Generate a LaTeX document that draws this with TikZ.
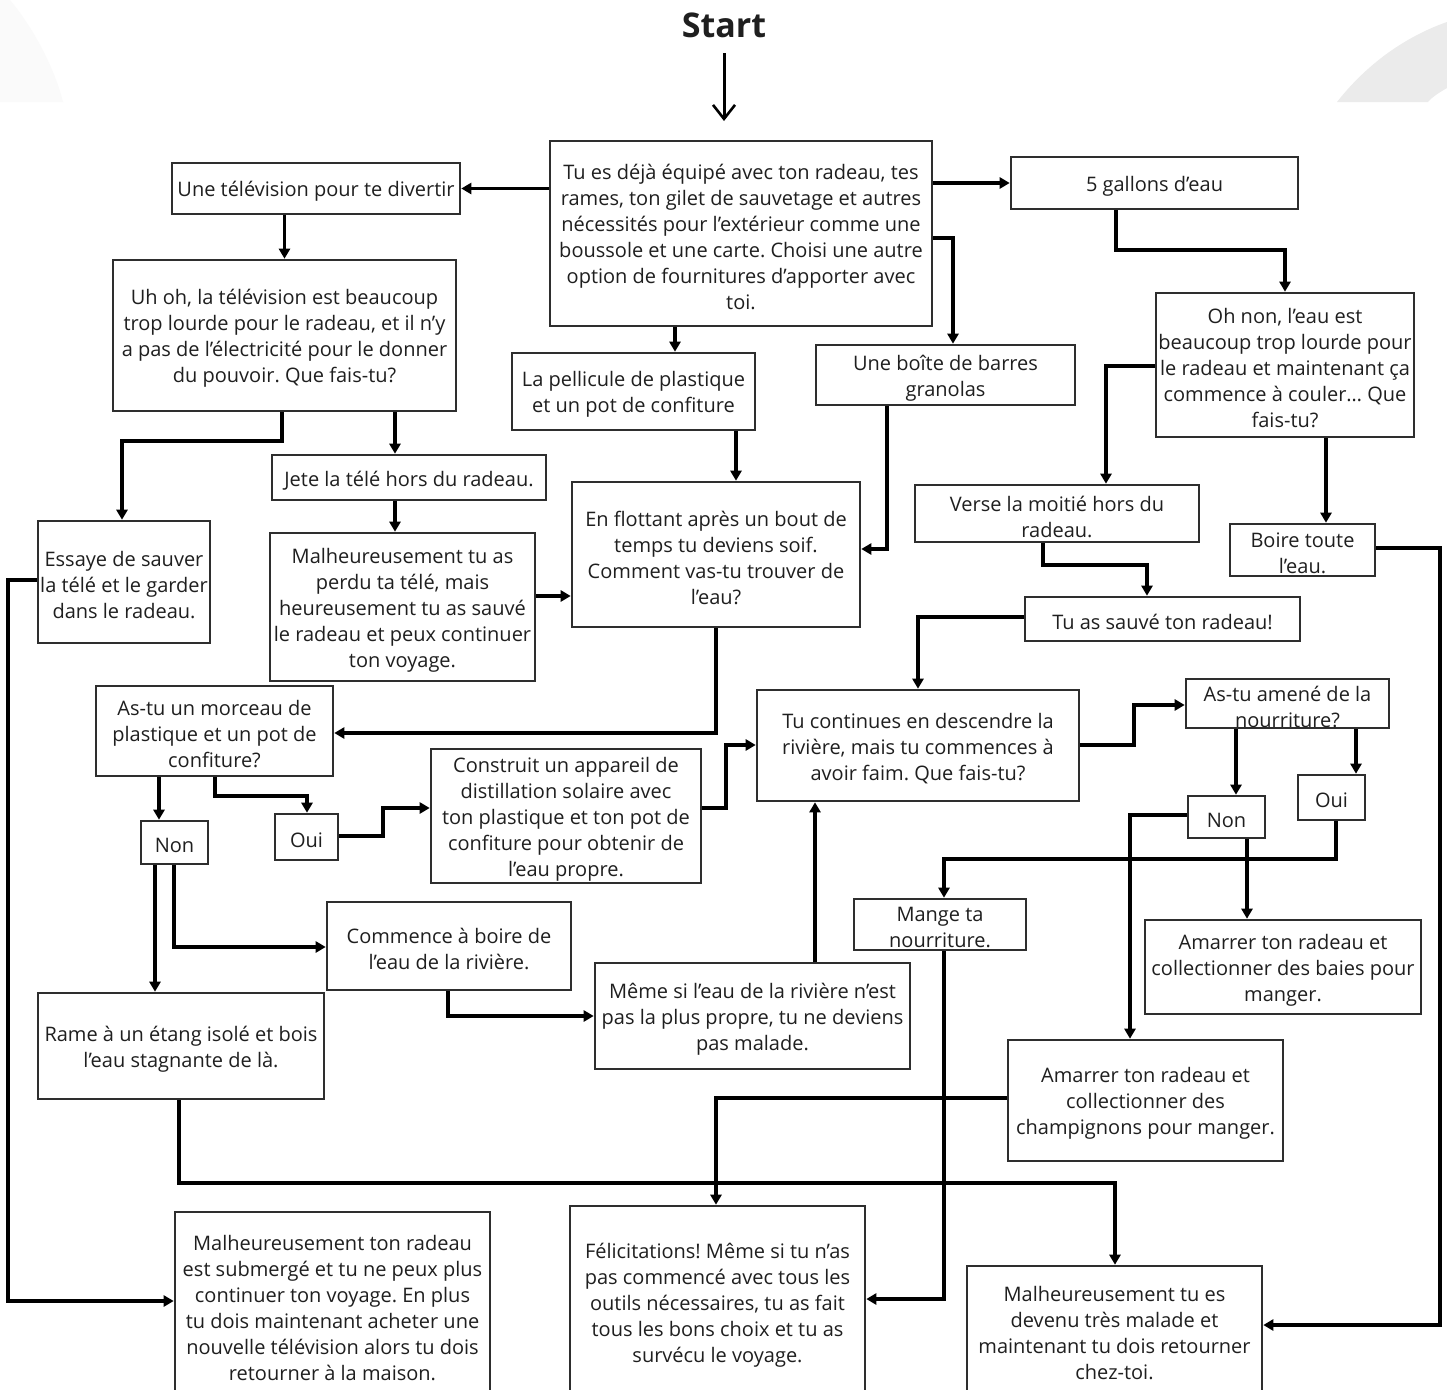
\documentclass[tikz,border=0pt]{standalone}
\usepackage{fontspec}
\setmainfont{Open Sans}
\usetikzlibrary{arrows.meta}
\frenchspacing
\newcommand\bx[6]{\node[box,minimum width={#3-#1},minimum height={#4-#2}] (#5) at ({(#1+#3)/2},{(#2+#4)/2}) {};
  \node[boxtext] (#5-t) at ([yshift=-3pt]#5.center) {#6};}
\begin{document}
\begin{tikzpicture}[x=1pt,y=-1pt,
  box/.style={draw=black!82,line width=2.6pt,fill=white,inner sep=0pt},
  boxtext/.style={align=center,inner sep=0pt,text=black!88,font=\fontsize{20}{26}\selectfont},
  arr/.style={line width=3.6pt,line join=miter,-{Triangle[length=10pt,width=11pt]}},
  startarr/.style={line width=3pt,-{Straight Barb[length=14pt,width=22pt,line width=2.6pt]}}
]
\useasboundingbox (0,0) rectangle (1447,1389);
\clip (0,0) rectangle (1447,1389);
\fill[white] (0,0) rectangle (1447,1389);
% background arcs
\fill[black!2] (0,0) -- (10,0) .. controls (35,30) and (55,70) .. (63,102) -- (0,102) -- cycle;
\fill[black!8] (1337,102) .. controls (1370,60) and (1410,35) .. (1447,22) -- (1447,88) .. controls (1440,92) and (1432,97) .. (1428,102) -- cycle;

% title
\node[font=\fontsize{34}{40}\selectfont\bfseries,text=black!88] (start) at (724,25) {Start};
\coordinate (s1) at (724,121);
\draw[startarr] ([yshift=-12pt]start.south) -- (s1);

% boxes
\bx{550}{141}{932}{326}{b0}{Tu es déjà équipé avec ton radeau, tes\\rames, ton gilet de sauvetage et autres\\nécessités pour l’extérieur comme une\\boussole et une carte. Choisi une autre\\option de fournitures d’apporter avec\\toi.}
\bx{172}{163}{460}{214}{tv}{Une télévision pour te divertir}
\bx{1011}{157}{1298}{209}{gal}{5 gallons d’eau}
\bx{113}{260}{456}{411}{uh}{Uh oh, la télévision est beaucoup\\trop lourde pour le radeau, et il n’y\\a pas de l’électricité pour le donner\\du pouvoir. Que fais-tu?}
\bx{512}{353}{755}{430}{pl}{La pellicule de plastique\\et un pot de confiture}
\bx{816}{345}{1075}{405}{gran}{Une boîte de barres\\granolas}
\bx{1156}{293}{1414}{437}{oh}{Oh non, l’eau est\\beaucoup trop lourde pour\\le radeau et maintenant ça\\commence à couler… Que\\fais-tu?}
\bx{272}{455}{546}{500}{jete}{Jete la télé hors du radeau.}
\bx{38}{521}{210}{643}{ess}{Essaye de sauver\\la télé et le garder\\dans le radeau.}
\bx{270}{533}{535}{681}{mal}{Malheureusement tu as\\perdu ta télé, mais\\heureusement tu as sauvé\\le radeau et peux continuer\\ton voyage.}
\bx{572}{482}{860}{627}{fl}{En flottant après un bout de\\temps tu deviens soif.\\Comment vas-tu trouver de\\l’eau?}
\bx{915}{485}{1199}{542}{verse}{Verse la moitié hors du\\radeau.}
\bx{1230}{524}{1375}{576}{boire}{Boire toute\\l’eau.}
\bx{1025}{597}{1300}{641}{sauve}{Tu as sauvé ton radeau!}
\bx{757}{690}{1079}{801}{cont}{Tu continues en descendre la\\rivière, mais tu commences à\\avoir faim. Que fais-tu?}
\bx{96}{686}{333}{776}{asp}{As-tu un morceau de\\plastique et un pot de\\confiture?}
\bx{431}{749}{701}{883}{cons}{Construit un appareil de\\distillation solaire avec\\ton plastique et ton pot de\\confiture pour obtenir de\\l’eau propre.}
\bx{1186}{679}{1389}{728}{ama}{As-tu amené de la\\nourriture?}
\bx{141}{821}{208}{864}{nonA}{Non}
\bx{275}{814}{338}{860}{ouiA}{Oui}
\bx{327}{902}{571}{990}{com}{Commence à boire de\\l’eau de la rivière.}
\bx{38}{993}{324}{1099}{rame}{Rame à un étang isolé et bois\\l’eau stagnante de là.}
\bx{595}{963}{910}{1069}{meme}{Même si l’eau de la rivière n’est\\pas la plus propre, tu ne deviens\\pas malade.}
\bx{1188}{796}{1265}{838}{nonB}{Non}
\bx{1298}{775}{1365}{820}{ouiB}{Oui}
\bx{854}{899}{1026}{950}{mange}{Mange ta\\nourriture.}
\bx{1145}{920}{1421}{1014}{baies}{Amarrer ton radeau et\\collectionner des baies pour\\manger.}
\bx{1008}{1040}{1283}{1161}{champ}{Amarrer ton radeau et\\collectionner des\\champignons pour manger.}
\bx{175}{1212}{490}{1398}{sub}{Malheureusement ton radeau\\est submergé et tu ne peux plus\\continuer ton voyage. En plus\\tu dois maintenant acheter une\\nouvelle télévision alors tu dois\\retourner à la maison.}
\bx{570}{1206}{865}{1398}{fel}{Félicitations! Même si tu n’as\\pas commencé avec tous les\\outils nécessaires, tu as fait\\tous les bons choix et tu as\\survécu le voyage.}
\bx{967}{1266}{1262}{1394}{malade}{Malheureusement tu es\\devenu très malade et\\maintenant tu dois retourner\\chez-toi.}

% connectors
\draw[arr] (b0.west |- tv.east) -- (tv.east);
\draw[arr] (b0.east |- gal.west) -- (gal.west);
\draw[arr] (uh.north |- tv.south) -- (uh.north);
\draw[arr] (b0.south -| 675,0) -- (pl.north -| 675,0);
\draw[arr] (b0.east |- 0,238) -| (gran.north -| 953,0);
\draw[arr] (gal.south -| 1116,0) -- (1116,250) -| (oh.north);
\draw[arr] (uh.south -| 395,0) -- (jete.north -| 395,0);
\draw[arr] (uh.south -| 282,0) -- (282,441) -| (ess.north -| 122,0);
\draw[arr] (jete.south -| 395,0) -- (mal.north -| 395,0);
\draw[arr] (pl.south -| 736,0) -- (fl.north -| 736,0);
\draw[arr] (gran.south -| 887,0) |- (fl.east |- 0,549);
\draw[arr] (mal.east |- 0,596) -- (fl.west |- 0,596);
\draw[arr] (oh.west |- 0,366) -| (verse.north -| 1106,0);
\draw[arr] (oh.south -| 1326,0) -- (boire.north -| 1326,0);
\draw[arr] (verse.south -| 1043,0) -- (1043,565) -| (sauve.north -| 1147,0);
\draw[arr] (sauve.west |- 0,617) -| (cont.north -| 918,0);
\draw[arr] (fl.south -| 716,0) |- (asp.east |- 0,733);
\draw[arr] (cons.east |- 0,808) -- (726,808) |- (cont.west |- 0,745);
\draw[arr] (cont.east |- 0,745) -- (1134,745) |- (ama.west |- 0,705);
\draw[arr] (asp.south -| 159,0) -- (nonA.north -| 159,0);
\draw[arr] (asp.south -| 215,0) -- (215,796) -| (ouiA.north -| 307,0);
\draw[arr] (ouiA.east |- 0,836) -- (383,836) |- (cons.west |- 0,808);
\draw[arr] (nonA.south -| 174,0) |- (com.west |- 0,947);
\draw[arr] (nonA.south -| 155,0) -- (rame.north -| 155,0);
\draw[arr] (com.south -| 448,0) |- (meme.west |- 0,1016);
\draw[arr] (meme.north -| 815,0) -- (cont.south -| 815,0);
\draw[arr] (ama.south -| 1236,0) -- (nonB.north -| 1236,0);
\draw[arr] (ama.south -| 1356,0) -- (ouiB.north -| 1356,0);
\draw[arr] (ouiB.south -| 1336,0) -- (1336,859) -| (mange.north -| 944,0);
\draw[arr] (nonB.south -| 1247,0) -- (baies.north -| 1247,0);
\draw[arr] (nonB.west |- 0,815) -| (champ.north -| 1130,0);
\draw[arr] (ess.west |- 0,580) -- (8,580) |- (sub.west |- 0,1301);
\draw[arr] (mange.south -| 944,0) |- (fel.east |- 0,1299);
\draw[arr] (champ.west |- 0,1098) -| (fel.north -| 716,0);
\draw[arr] (rame.south -| 179,0) -- (179,1183) -| (malade.north -| 1115,0);
\draw[arr] (boire.east |- 0,548) -- (1440,548) |- (malade.east |- 0,1325);
\end{tikzpicture}
\end{document}
